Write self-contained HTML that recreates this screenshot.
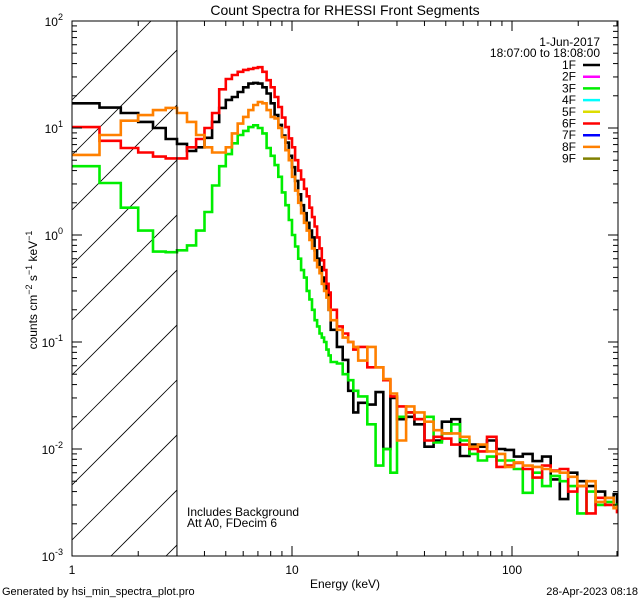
<!DOCTYPE html>
<html><head><meta charset="utf-8"><style>
html,body{margin:0;padding:0;background:#fff;width:640px;height:600px;overflow:hidden;}
svg{display:block;font-family:"Liberation Sans",sans-serif;}
</style></head><body>
<svg id="chart" width="640" height="600" viewBox="0 0 640 600" xmlns="http://www.w3.org/2000/svg">
<rect width="640" height="600" fill="#fff"/>
<defs><clipPath id="plotclip"><rect x="72" y="21" width="546" height="535"/></clipPath>
<clipPath id="hatchclip"><rect x="72" y="21" width="105" height="535"/></clipPath></defs>
<text x="345" y="15" font-size="14" text-anchor="middle">Count Spectra for RHESSI Front Segments</text>
<g id="hatch" clip-path="url(#hatchclip)"></g>
<g id="series" clip-path="url(#plotclip)"></g>
<g id="axes"></g>
<g font-size="12">
<text x="600" y="46" text-anchor="end">1-Jun-2017</text>
<text x="600" y="57" text-anchor="end">18:07:00 to 18:08:00</text>
</g>
<g id="legend-entries"></g>
<text x="187" y="516" font-size="12">Includes Background</text>
<text x="187" y="527" font-size="12">Att A0, FDecim 6</text>
<text x="345" y="588" font-size="12" text-anchor="middle">Energy (keV)</text>
<text transform="translate(37,290) rotate(-90)" font-size="12" text-anchor="middle">counts cm<tspan font-size="9" dy="-5">−2</tspan><tspan dy="5"> s</tspan><tspan font-size="9" dy="-5">−1</tspan><tspan dy="5"> keV</tspan><tspan font-size="9" dy="-5">−1</tspan></text>
<text x="2" y="595" font-size="11">Generated by hsi_min_spectra_plot.pro</text>
<text x="638" y="595" font-size="11" text-anchor="end">28-Apr-2023 08:18</text>
</svg>
<script>
const NS="http://www.w3.org/2000/svg";
const highEdges=[15,16,17,18,19,20,22,24,26,28,30,33,36,40,44,48,53,58,64,70,77,85,93,102,112,124,137,150,165,180,198,218,240,265,290,300];
const seg1F=[17,15.5,13.8,11.4,10,7.9,7.1,6.1,6.6,8.1,11.4,15.4,18.3,19.5,21.7,24,26,26.4,26,24,21,17,13.2,10.7,8.5,7.3,5.5,4.3,3.2,2.4,1.9,1.6,1.3,1.1,0.95,0.72,0.6,0.5,0.4,0.34,0.3,0.2,
0.13,0.09,0.068,0.035,0.022,0.027,0.026,0.034,0.01,0.03,0.019,0.02,0.017,0.0105,0.012,0.018,0.019,0.0086,0.011,0.0105,0.012,0.01,0.0098,0.0085,0.009,0.0077,0.0085,0.0052,0.0034,0.006,0.005,0.0045,0.004,0.0035,0.0038,0.003];
const seg3F=[4.4,3.06,1.8,1.1,0.7,0.69,0.72,0.8,1.1,1.64,2.9,4.4,5.7,7.2,8.6,9.4,10.2,10.6,10,8.9,6.5,5.5,4.5,3.5,2.5,1.9,1.38,1.0,0.78,0.6,0.47,0.4,0.3,0.25,0.2,0.16,0.14,0.12,0.11,0.1,0.085,0.075,
0.065,0.063,0.05,0.044,0.035,0.031,0.017,0.007,0.01,0.006,0.02,0.022,0.019,0.02,0.0115,0.014,0.017,0.012,0.009,0.0078,0.0085,0.0078,0.0078,0.0065,0.0039,0.006,0.0045,0.0056,0.005,0.0045,0.0025,0.004,0.003,0.0032,0.003,0.0028];
const seg6F=[10.2,7.6,6.5,5.9,5.4,5.2,5.2,6.6,7.9,10,13.8,23,28.7,31.3,33.5,34.9,35.6,36.4,37,33.5,28,24,19.5,15.7,12.5,10.2,8,6.6,5,4,3.3,2.7,2.3,1.8,1.47,1.2,0.95,0.75,0.58,0.47,0.35,0.29,
0.2,0.14,0.12,0.1,0.085,0.09,0.058,0.058,0.044,0.031,0.025,0.022,0.019,0.012,0.013,0.0125,0.011,0.011,0.01,0.0095,0.013,0.0068,0.007,0.0074,0.0065,0.0054,0.007,0.0063,0.0065,0.004,0.0045,0.0025,0.0035,0.003,0.0028,0.0025];
const seg8F=[5.6,8.6,11.7,13.2,14.7,15.4,13.8,11.4,8.6,6.6,5.9,5.9,6.6,8.9,11,12.7,14.7,16.4,17.5,17,14.7,12.7,12.3,10,8.2,6.2,5,3.5,2.6,2.0,1.6,1.3,1.1,0.9,0.75,0.58,0.5,0.44,0.35,0.3,0.26,0.2,
0.16,0.13,0.11,0.1,0.09,0.067,0.09,0.058,0.045,0.033,0.012,0.025,0.022,0.018,0.015,0.014,0.014,0.013,0.0105,0.011,0.0095,0.009,0.0068,0.0075,0.007,0.0068,0.0065,0.0062,0.006,0.0055,0.0045,0.005,0.0032,0.0035,0.0028,0.003];
const legendLabels=["1F","2F","3F","4F","5F","6F","7F","8F","9F"];
const legendColors=["#000000","#ff00ff","#00ee00","#00ffff","#dddd00","#ff0000","#0000ff","#ff8000","#808000"];
const xTickLabels=["1","10","100"];
const xTickValues=[1,10,100];
const yTickExps=[-3,-2,-1,0,1,2];

const X0=72,X1=618,Y0=21,Y1=556,XDEC=220,YDEC=107;
function xs(e){return X0+Math.log10(e)*XDEC;}
function ys(v){return Y0+(2-Math.log10(v))*YDEC;}
const edges=[];
for(let i=0;i<=42;i++)edges.push(1+i/3);
for(let i=1;i<highEdges.length;i++)edges.push(highEdges[i]);

function mk(tag,attrs,parent){const el=document.createElementNS(NS,tag);for(const k in attrs)el.setAttribute(k,attrs[k]);parent.appendChild(el);return el;}

const hatch=document.getElementById('hatch');
for(let c=100;c<=800;c+=55){
  const l=mk('line',{x1:72,y1:c,x2:672,y2:c-600,stroke:'#000','stroke-width':0.8},hatch);
  
  
}

const sg=document.getElementById('series');
const seriesList=[[seg1F,'#000000','series-1f'],[seg3F,'#00ee00','series-3f'],[seg6F,'#ff0000','series-6f'],[seg8F,'#ff8000','series-8f']];
seriesList.forEach(([vals,col,name])=>{
  let d='';
  vals.forEach((v,i)=>{const a=xs(edges[i]),b=xs(edges[i+1]),y=ys(v);d+=(i?'L':'M')+a.toFixed(1)+','+y.toFixed(1)+'L'+b.toFixed(1)+','+y.toFixed(1);});
  const p=mk('path',{d:d,fill:'none',stroke:col,'stroke-width':2.6,'stroke-linejoin':'miter'},sg);
  
  
});

const ax=document.getElementById('axes');
const frame=mk('rect',{x:X0,y:Y0,width:X1-X0,height:Y1-Y0,fill:'none',stroke:'#000','stroke-width':1},ax);


const vline=mk('line',{x1:xs(3),y1:Y0,x2:xs(3),y2:Y1,stroke:'#000','stroke-width':1},ax);


for(let dec=1;dec<=100;dec*=10){for(let m=1;m<10;m++){const e=dec*m;if(e>300)break;const x=xs(e);const L=m===1?10:5;
 mk('line',{x1:x,y1:Y1,x2:x,y2:Y1-L,stroke:'#000'},ax);mk('line',{x1:x,y1:Y0,x2:x,y2:Y0+L,stroke:'#000'},ax);}}
xTickValues.forEach((v,i)=>{const t=mk('text',{x:xs(v),y:574,'font-size':12,'text-anchor':'middle'},ax);t.textContent=xTickLabels[i];
 
 });
yTickExps.forEach(ex=>{const y=ys(Math.pow(10,ex));
 mk('line',{x1:X0,y1:y,x2:X0+10,y2:y,stroke:'#000'},ax);mk('line',{x1:X1,y1:y,x2:X1-10,y2:y,stroke:'#000'},ax);
 if(ex<2){for(let m=2;m<10;m++){const yy=ys(Math.pow(10,ex)*m);mk('line',{x1:X0,y1:yy,x2:X0+5,y2:yy,stroke:'#000'},ax);mk('line',{x1:X1,y1:yy,x2:X1-5,y2:yy,stroke:'#000'},ax);}}
 const t=mk('text',{x:63,y:y+5,'font-size':12,'text-anchor':'end'},ax);
 t.innerHTML='10<tspan font-size="9" dy="-6">'+ex+'</tspan>';
 
 });

const lg=document.getElementById('legend-entries');
legendLabels.forEach((lab,i)=>{const y=69+i*11.7;
 const g=mk('g',{},lg);
 
 
 const t=mk('text',{x:576,y:y,'font-size':12,'text-anchor':'end'},g);t.textContent=lab;
 mk('line',{x1:583,y1:y-4,x2:600,y2:y-4,stroke:legendColors[i],'stroke-width':2.5},g);});
</script>
</body></html>
